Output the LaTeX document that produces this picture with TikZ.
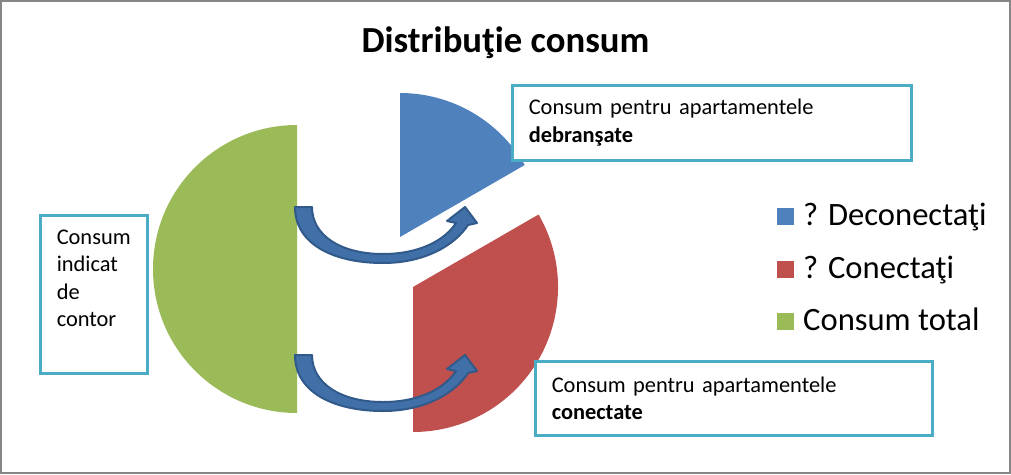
\documentclass[tikz,border=0pt]{standalone}
\usepackage{fontspec}
\setmainfont{Carlito}
\definecolor{pieblue}{HTML}{4F81BD}
\definecolor{piered}{HTML}{C0504D}
\definecolor{piegreen}{HTML}{9BBB59}
\definecolor{boxcol}{HTML}{4BACC6}
\definecolor{arrowfill}{HTML}{4170A8}
\definecolor{arrowedge}{HTML}{315A8B}
\definecolor{framegray}{HTML}{868686}
\newcommand{\bodytxt}{\fontsize{22.4}{27.5}\selectfont}
\newcommand{\legtxt}{\fontsize{32.6}{38}\selectfont}
\begin{document}
\begin{tikzpicture}[x=1pt, y=1pt,
		tbox/.style={draw=boxcol, line width=3.5pt, fill=white, inner xsep=16.5pt, font=\bodytxt},
		legsq/.style={minimum size=17pt, inner sep=0pt},
		curvarrow/.style={fill=arrowfill, draw=arrowedge, line width=2pt, line join=round}]
	\useasboundingbox (0,0) rectangle (1011,-474);
	\draw[framegray, line width=2pt] (1,-1) rectangle (1010,-473);
	\node[font=\fontsize{36.7}{44}\selectfont\bfseries, anchor=base, inner sep=0pt] (title) at (505.5,-52) {Distribuţie consum};
	% pie slices
	\fill[piegreen] (297,-269) -- ++(90:144) arc[start angle=90, end angle=270, radius=144] -- cycle;
	\fill[pieblue] (400,-237) -- ++(90:144) arc[start angle=90, end angle=30, radius=144] -- cycle;
	\fill[piered] (413,-287) -- ++(30:145) arc[start angle=30, end angle=-90, radius=145] -- cycle;
	% curved arrows
	\foreach \dy in {0,148} {
			\begin{scope}[yshift=-\dy]
				\draw[curvarrow] (295,-207) .. controls (295,-245) and (335,-263) .. (383,-263)
					.. controls (425,-263) and (455,-245) .. (468,-225)
					-- (477,-223) -- (465,-207) -- (447,-221) -- (456,-223)
					.. controls (445,-240) and (420,-254) .. (383,-254)
					.. controls (340,-254) and (312,-235) .. (312,-207) -- cycle;
			\end{scope}
		}
	% text boxes
	\node[tbox, anchor=north west, inner ysep=14.5pt] (contor) at (38.5,-213.5)
		{\parbox[t][129pt][t]{74pt}{Consum\\indicat\\de\\contor}};
	\node[tbox, anchor=north west, minimum width=399pt, minimum height=75pt, text width=366pt, align=left] (debransate) at (510.5,-83.5)
		{Consum pentru apartamentele\\\textbf{debranşate}};
	\node[tbox, anchor=north west, minimum width=397pt, minimum height=74pt, text width=364pt, align=left] (conectate) at (533.5,-359.5)
		{Consum pentru apartamentele\\\textbf{conectate}};
	% legend
	\foreach \col/\txt [count=\i] in {pieblue/{? Deconectaţi}, piered/{? Conectaţi}, piegreen/{Consum total}} {
			\pgfmathsetmacro{\yy}{-225.5-52.5*(\i-1)}
			\node[legsq, fill=\col, anchor=south west] (sq\i) at (777,\yy) {};
			\node[font=\legtxt, anchor=base west, inner sep=0pt] (leg\i) at (803,\yy) {\txt};
		}
\end{tikzpicture}
\end{document}
